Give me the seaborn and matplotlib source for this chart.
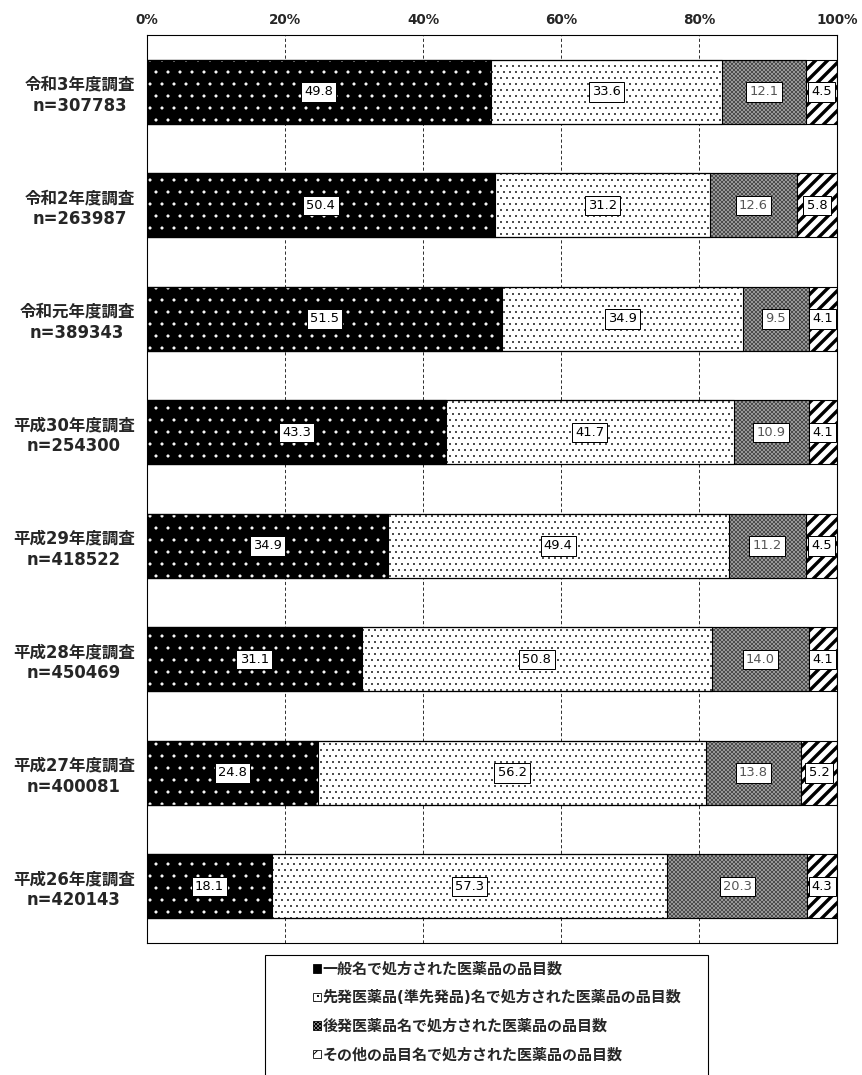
import numpy as np
import pandas as pd
import matplotlib
import matplotlib.pyplot as plt
from matplotlib.patches import Rectangle
import seaborn as sns

# --- data ---
surveys = [
    "令和3年度調査\nn=307783",
    "令和2年度調査\nn=263987",
    "令和元年度調査\nn=389343",
    "平成30年度調査\nn=254300",
    "平成29年度調査\nn=418522",
    "平成28年度調査\nn=450469",
    "平成27年度調査\nn=400081",
    "平成26年度調査\nn=420143",
]
generic_name = [49.8, 50.4, 51.5, 43.3, 34.9, 31.1, 24.8, 18.1]
brand_name = [33.6, 31.2, 34.9, 41.7, 49.4, 50.8, 56.2, 57.3]
generic_brand = [12.1, 12.6, 9.5, 10.9, 11.2, 14.0, 13.8, 20.3]
other_name = [4.5, 5.8, 4.1, 4.1, 4.5, 4.1, 5.2, 4.3]

series_names = [
    "一般名で処方された医薬品の品目数",
    "先発医薬品(準先発品)名で処方された医薬品の品目数",
    "後発医薬品名で処方された医薬品の品目数",
    "その他の品目名で処方された医薬品の品目数",
]
x_ticks = [0, 20, 40, 60, 80, 100]

# style per segment: facecolor, hatch colour, hatch, hatch linewidth, label colour
styles = [
    ("black", "white", ".", 0.6, "black"),
    ("white", "black", "..", 0.6, "black"),
    ("#a4a4a4", "#404040", "xxxxxx", 0.7, "#555555"),
    ("white", "black", "//", 3.4, "black"),
]

sns.set_style("white")
# DejaVu first for the latin digits (wide, like the original), CJK as fallback
plt.rcParams["font.family"] = ["DejaVu Sans", "Noto Sans CJK JP"]

df = pd.DataFrame(
    {
        "survey": surveys,
        "s0": generic_name,
        "s1": brand_name,
        "s2": generic_brand,
        "s3": other_name,
    }
)
cols = ["s0", "s1", "s2", "s3"]
cum = df[cols].cumsum(axis=1)
for i, c in enumerate(cols):
    df["cum%d" % i] = cum[c]

fig = plt.figure(figsize=(862 / 72, 1075 / 72), dpi=72)
ax = fig.add_axes([147 / 862, 1 - 943 / 1075, 690 / 862, 908 / 1075])

bar_w = 0.56
# draw cumulative bars from the longest to the shortest so they stack
for i in reversed(range(4)):
    fc, hc, hatch, hlw, _ = styles[i]
    n_before = len(ax.patches)
    with matplotlib.rc_context({"hatch.linewidth": hlw}):
        sns.barplot(
            data=df,
            x="cum%d" % i,
            y="survey",
            orient="h",
            color=fc,
            saturation=1,
            width=bar_w,
            hatch=hatch,
            edgecolor=hc,
            linewidth=0,
            ax=ax,
            zorder=2,
        )
    for p in ax.patches[n_before:]:
        if hasattr(p, "set_hatch_linewidth"):
            p.set_hatch_linewidth(hlw)

# black outlines of every segment
for i in range(4):
    sns.barplot(
        data=df,
        x="cum%d" % i,
        y="survey",
        orient="h",
        fill=False,
        color="black",
        width=bar_w,
        linewidth=1.1,
        ax=ax,
        zorder=3,
    )

# value labels in boxes
for i, c in enumerate(cols):
    starts = df["cum%d" % i] - df[c]
    for yi, (s, v) in enumerate(zip(starts, df[c])):
        ax.text(
            s + v / 2,
            yi,
            "%.1f" % v,
            ha="center",
            va="center",
            fontsize=13,
            color=styles[i][4],
            zorder=5,
            bbox=dict(boxstyle="square,pad=0.25", fc="white", ec="black", lw=1),
        )

ax.set_xlim(0, 100)
ax.set_ylim(len(surveys) - 0.5, -0.5)
ax.set_xticks(x_ticks)
ax.set_xticklabels(["%d%%" % t for t in x_ticks], fontsize=13.5, fontweight="bold")
ax.xaxis.tick_top()
ax.tick_params(axis="x", length=0, pad=8)
ax.tick_params(axis="y", length=0, pad=12)
ax.set_yticks(range(len(surveys)))
ax.set_yticklabels(surveys, fontsize=16.5, fontweight="bold", multialignment="center")
ax.set_xlabel("")
ax.set_ylabel("")
for t in x_ticks[1:-1]:
    ax.axvline(t, color="black", lw=0.8, ls=(0, (4, 3)), zorder=1)
for sp in ax.spines.values():
    sp.set_visible(True)
    sp.set_color("black")
    sp.set_linewidth(1.1)

# legend with its own box (cut off at the bottom like the original)
handles = []
for i in range(4):
    fc, hc, hatch, hlw, _ = styles[i]
    h = Rectangle((0, 0), 1, 1, facecolor=fc, edgecolor="black", lw=0.8, hatch=hatch)
    handles.append(h)
fig.patches.append(
    Rectangle(
        (265 / 862, -0.01),
        443 / 862,
        1 - 955 / 1075 + 0.01,
        transform=fig.transFigure,
        fill=False,
        edgecolor="black",
        lw=1.1,
    )
)
fig.legend(
    handles,
    series_names,
    loc="upper left",
    bbox_to_anchor=(313 / 862, 1 - 962 / 1075),
    frameon=False,
    borderpad=0,
    borderaxespad=0,
    handlelength=0.5,
    handleheight=0.5,
    handletextpad=0.15,
    labelspacing=0.9,
    prop={"size": 15, "weight": "bold"},
)

fig.savefig("out.png", dpi=72)
